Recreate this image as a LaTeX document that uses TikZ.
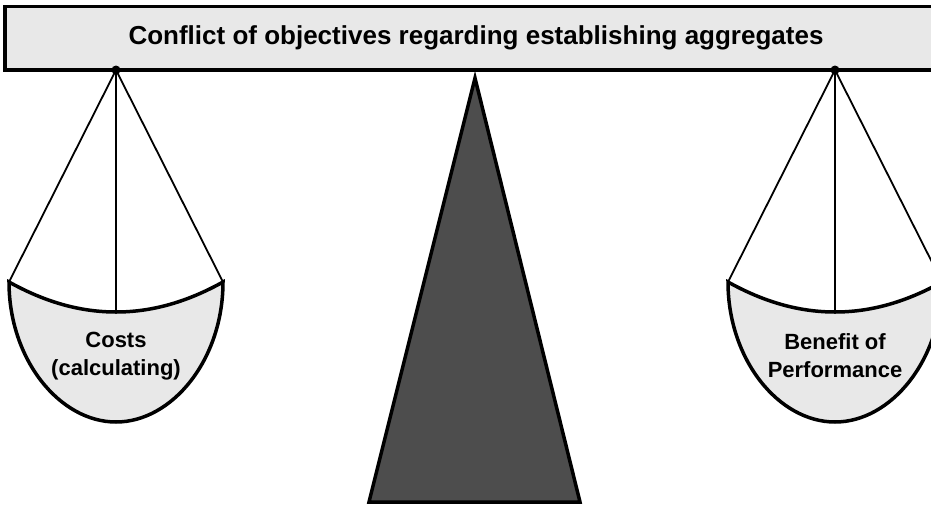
\documentclass[tikz,border=0pt]{standalone}
\usepackage{fontspec}
\setmainfont{Liberation Sans}
\usetikzlibrary{positioning}

\definecolor{panfill}{HTML}{E8E8E8}
\definecolor{standfill}{HTML}{4D4D4D}

\begin{document}
\begin{tikzpicture}[x=1pt,y=-1pt,
  beam/.style={draw,line width=3.5pt,fill=panfill,outer sep=0pt,inner sep=0pt,
    font=\bfseries\fontsize{26}{30}\selectfont},
  stand/.style={draw,line width=3.5pt,fill=standfill,line join=miter},
  bowl/.style={draw,line width=3.5pt,fill=panfill},
  cord/.style={line width=1.8pt},
  pantext/.style={font=\bfseries\fontsize{22}{28}\selectfont,align=center,inner sep=0pt}]
\useasboundingbox (0,0) rectangle (931,506);
\clip (0,0) rectangle (931,506);

% stand
\coordinate (apex) at (475,78);
\coordinate (footr) at (580,502);
\coordinate (footl) at (369,502);
\draw[stand] (apex) -- (footr) -- (footl) -- cycle;

% beam
\node[beam,minimum width=942pt,minimum height=63.5pt,anchor=north west] (beam) at (5,6.5)
  {Conflict of objectives regarding establishing aggregates};

% left pan
\coordinate (lpivot) at (116,70);
\coordinate (lrimw) at (9,282);
\coordinate (lrimc) at (116,312);
\coordinate (lrime) at (223,282);
\draw[cord] (lpivot) -- (lrimw);
\draw[cord] (lpivot) -- (lrimc);
\draw[cord] (lpivot) -- (lrime);
\draw[bowl] (lrimw) .. controls (45,302) and (80,312) .. (lrimc)
  .. controls (152,312) and (187,302) .. (lrime)
  .. controls (223,360) and (172,422) .. (116,422)
  .. controls (60,422) and (9,360) .. (lrimw) -- cycle;
\fill (lpivot) circle (4.5pt);
\node[pantext] (costs) at (116,356) {Costs\\(calculating)};

% right pan
\coordinate (rpivot) at (835,70);
\coordinate (rrimw) at (728,282);
\coordinate (rrimc) at (835,312);
\coordinate (rrime) at (942,282);
\draw[cord] (rpivot) -- (rrimw);
\draw[cord] (rpivot) -- (rrimc);
\draw[cord] (rpivot) -- (rrime);
\draw[bowl] (rrimw) .. controls (764,302) and (799,312) .. (rrimc)
  .. controls (871,312) and (906,302) .. (rrime)
  .. controls (942,360) and (891,422) .. (835,422)
  .. controls (779,422) and (728,360) .. (rrimw) -- cycle;
\fill (rpivot) circle (4.5pt);
\node[pantext] (benefit) at (835,356) {Benefit of\\Performance};
\end{tikzpicture}
\end{document}
